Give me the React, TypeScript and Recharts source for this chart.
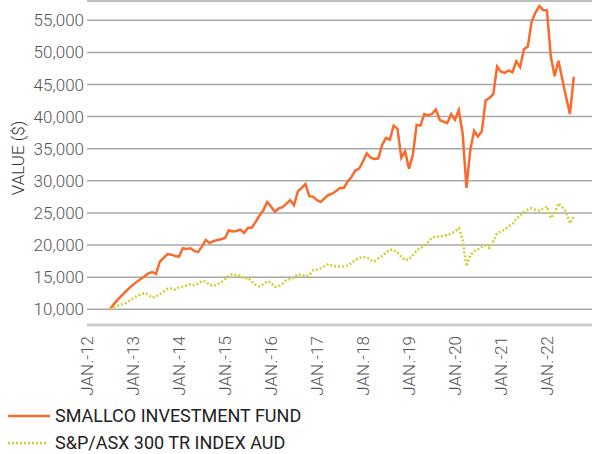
import React from 'react';
import { LineChart, Line, XAxis, YAxis, CartesianGrid, Legend } from 'recharts';

// month-end values, first point = Jun 2012 (position 6 months after Jan 2012)
const firstMonth = 6;

const fundValues = [
    10000, 10800, 11500, 12100, 12700, 13300, 13800, 14300, 14700, 15100,
    15600, 15800, 15500, 17400, 18000, 18600, 18500, 18300, 18200, 19500,
    19400, 19500, 19100, 18900, 19800, 20800, 20300, 20600, 20800, 20900,
    21100, 22300, 22100, 22200, 22400, 21900, 22700, 22700, 23600, 24600,
    25400, 26700, 26000, 25200, 25700, 25900, 26400, 27000, 26200, 28300,
    28900, 29500, 27600, 27500, 27000, 26700, 27300, 27800, 28000, 28400,
    28900, 28900, 29900, 30600, 31600, 31900, 33000, 34300, 33600, 33400,
    33500, 35600, 36700, 36400, 38600, 38100, 33600, 34600, 31900, 34000,
    38700, 38600, 40400, 40200, 40400, 41100, 39500, 39200, 39000, 40400,
    39500, 41000, 37400, 28900, 34800, 37800, 36900, 37700, 42500, 42900,
    43500, 47800, 47000, 46800, 47200, 46900, 48600, 47700, 50500, 50900,
    54800, 56200, 57200, 56600, 56500, 49400, 46300, 48700, 45800, 43000,
    40400, 46200,
];

const indexValues = [
    10000, 10350, 10550, 10750, 10900, 11300, 11700, 12070, 12300, 12550,
    12250, 11800, 12000, 12300, 12740, 13200, 13250, 13050, 13400, 13550,
    13700, 13900, 13750, 14000, 14400, 14300, 13800, 13650, 13900, 14200,
    14650, 15300, 15450, 15300, 15190, 14750, 14900, 14300, 13800, 13550,
    13900, 14350, 14150, 13500, 13600, 14000, 14500, 14700, 14900, 15450,
    15350, 15150, 15300, 16100, 16200, 16400, 16700, 17050, 16800, 16650,
    16650, 16700, 16800, 17200, 17650, 18000, 18150, 18100, 17700, 17450,
    17950, 18300, 18800, 19300, 19250, 18800, 18200, 17600, 17800, 18400,
    19150, 19500, 19870, 20500, 21100, 21350, 21320, 21450, 21580, 21800,
    22100, 22630, 20800, 16700, 18400, 19000, 19350, 19700, 19920, 19550,
    20600, 21850, 22100, 22400, 22900, 23300, 24100, 24600, 25100, 25500,
    25750, 25500, 25370, 25700, 26000, 24200, 25000, 26500, 25900, 25200,
    23400, 24440,
];

const yearLabels = ['JAN.-12', 'JAN.-13', 'JAN.-14', 'JAN.-15', 'JAN.-16', 'JAN.-17', 'JAN.-18', 'JAN.-19', 'JAN.-20', 'JAN.-21', 'JAN.-22'];
const valueTicks = [10000, 15000, 20000, 25000, 30000, 35000, 40000, 45000, 50000, 55000];

const seriesNames = {
    fund: 'SMALLCO INVESTMENT FUND',
    index: 'S&P/ASX 300 TR INDEX AUD',
};

const data = fundValues.map((v, i) => ({
    month: firstMonth + i,
    fund: v,
    index: indexValues[i],
}));

const FONT = "Roboto, 'DejaVu Sans', sans-serif";
const ORANGE = '#f96a2c';
const YELLOW = '#cfcf33';

const MonthTick = ({ x, y, payload }: any) => {
    const label = yearLabels[Math.round(payload.value / 12)];
    const ty = y + 3;
    return (
        <text
            x={x}
            y={ty}
            transform={`rotate(-90 ${x} ${ty})`}
            textAnchor="end"
            dominantBaseline="central"
            fill="#555"
            fontSize={17}
            fontWeight={300}
            fontFamily={FONT}
        >
            {label}
        </text>
    );
};

const ChartLegend = () => (
    <div style={{ paddingTop: 2, fontFamily: FONT, fontSize: 18, color: '#222' }}>
        <div style={{ display: 'flex', alignItems: 'center', height: 27 }}>
            <svg width={55} height={10}>
                <line x1={8} x2={50} y1={5} y2={5} stroke={ORANGE} strokeWidth={2.5} />
            </svg>
            <span>{seriesNames.fund}</span>
        </div>
        <div style={{ display: 'flex', alignItems: 'center', height: 27 }}>
            <svg width={55} height={10}>
                <line x1={8} x2={46} y1={5} y2={5} stroke={YELLOW} strokeWidth={2.5} strokeDasharray="2 2" />
            </svg>
            <span>{seriesNames.index}</span>
        </div>
    </div>
);

const App: React.FC = () => {
    return (
        <div style={{ width: 592, height: 454, fontFamily: FONT }}>
            <style>{'body{margin:0}'}</style>
            <LineChart width={592} height={454} data={data} margin={{ top: 1, right: 0, left: 0, bottom: 0 }}>
                <CartesianGrid vertical={false} stroke="#a8a8a8" strokeWidth={1.5} />
                <XAxis
                    dataKey="month"
                    type="number"
                    domain={[0, 131.75]}
                    ticks={yearLabels.map((_, i) => i * 12)}
                    interval={0}
                    height={75}
                    tickLine={false}
                    axisLine={{ stroke: '#cbcbcb', strokeWidth: 3 }}
                    tick={<MonthTick />}
                />
                <YAxis
                    domain={[7550, 58000]}
                    ticks={valueTicks}
                    width={87}
                    allowDataOverflow
                    axisLine={false}
                    tickLine={false}
                    tickSize={0}
                    tickMargin={3}
                    tickFormatter={(v) => v.toLocaleString('en-US')}
                    tick={{ fill: '#555', fontSize: 17, fontWeight: 300, fontFamily: FONT }}
                    label={{
                        content: () => (
                            <text
                                x={18}
                                y={158}
                                transform="rotate(-90 18 158)"
                                textAnchor="middle"
                                dominantBaseline="central"
                                fill="#333"
                                fontSize={17}
                                fontWeight={300}
                                fontFamily={FONT}
                            >
                                VALUE ($)
                            </text>
                        ),
                    }}
                />
                <Legend verticalAlign="bottom" height={54} content={<ChartLegend />} wrapperStyle={{ left: 0, width: 592 }} />
                <Line
                    dataKey="fund"
                    name={seriesNames.fund}
                    stroke={ORANGE}
                    strokeWidth={2.5}
                    dot={false}
                    isAnimationActive={false}
                />
                <Line
                    dataKey="index"
                    name={seriesNames.index}
                    stroke={YELLOW}
                    strokeWidth={2.5}
                    strokeDasharray="2 2"
                    dot={false}
                    isAnimationActive={false}
                />
            </LineChart>
        </div>
    );
};

export default App;
